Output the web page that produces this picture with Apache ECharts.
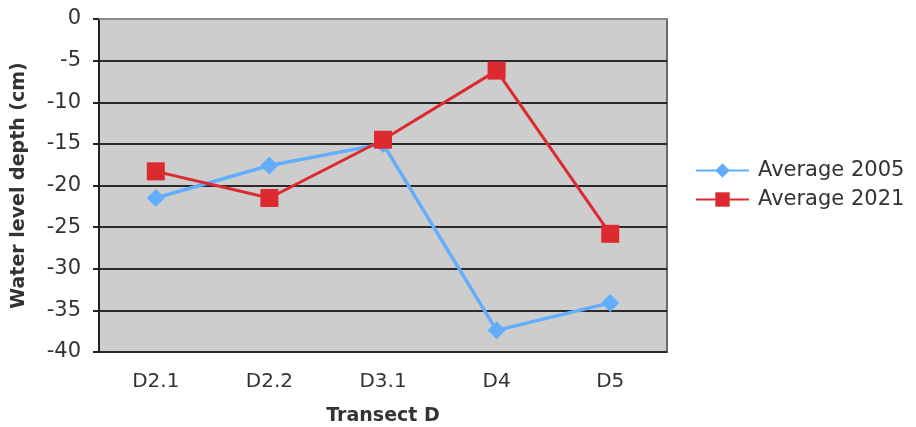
<!DOCTYPE html>
<html>
<head>
<meta charset="utf-8">
<script src="https://cdn.jsdelivr.net/npm/echarts@6/dist/echarts.min.js"></script>
<style>html,body{margin:0;padding:0;background:#fff}#c{width:916px;height:427px}</style>
</head>
<body>
<div id="c"></div>
<script>
const categories = ['D2.1', 'D2.2', 'D3.1', 'D4', 'D5'];
const avg2005 = [-21.5, -17.6, -15.0, -37.4, -34.1];
const avg2021 = [-18.3, -21.5, -14.5, -6.2, -25.8];
const seriesNames = ['Average 2005', 'Average 2021'];
const yTicks = { min: -40, max: 0, interval: 5 };

const FONT = 'DejaVu Sans';
const chart = echarts.init(document.getElementById('c'), null, { renderer: 'canvas' });
chart.setOption({
  animation: false,
  backgroundColor: '#ffffff',
  textStyle: { fontFamily: FONT },
  grid: {
    left: 99, right: 249, top: 19, bottom: 75,
    containLabel: false, outerBoundsMode: 'none',
    show: true, backgroundColor: '#cdcdcd', borderColor: '#6a6a6a', borderWidth: 2
  },
  legend: {
    orient: 'vertical', left: 690, top: 155,
    itemWidth: 53, itemHeight: 18, itemGap: 8,
    data: seriesNames,
    textStyle: { fontFamily: FONT, fontSize: 21, color: '#333', padding: [0, 0, 0, 4] }
  },
  xAxis: {
    type: 'category', data: categories, boundaryGap: true,
    name: 'Transect D', nameLocation: 'middle', nameGap: 55,
    nameTextStyle: { fontFamily: FONT, fontSize: 19, fontWeight: 'bold', color: '#333' },
    axisLine: { show: true, lineStyle: { color: '#8a8a8a', width: 2 } },
    axisTick: { show: false },
    axisLabel: { fontFamily: FONT, fontSize: 20, color: '#333', margin: 20 },
    splitLine: { show: false }
  },
  yAxis: {
    type: 'value', min: yTicks.min, max: yTicks.max, interval: yTicks.interval,
    name: 'Water level depth (cm)', nameLocation: 'middle', nameGap: 70,
    nameTextStyle: { fontFamily: FONT, fontSize: 19, fontWeight: 'bold', color: '#333' },
    axisLine: { show: true, lineStyle: { color: '#222', width: 2 } },
    axisTick: { show: true, inside: false, length: 6, lineStyle: { color: '#222', width: 2 } },
    axisLabel: { fontFamily: FONT, fontSize: 21, color: '#333', margin: 18 },
    splitLine: { show: true, lineStyle: { color: '#2a2a2a', width: 2 } }
  },
  series: [
    {
      name: seriesNames[0], type: 'line', data: avg2005,
      symbol: 'diamond', symbolSize: 18,
      lineStyle: { color: '#62aefc', width: 3.5 },
      itemStyle: { color: '#62aefc' }
    },
    {
      name: seriesNames[1], type: 'line', data: avg2021,
      symbol: 'rect', symbolSize: 18,
      lineStyle: { color: '#dd2a30', width: 3 },
      itemStyle: { color: '#dd2a30' }
    }
  ]
});
</script>
</body>
</html>
